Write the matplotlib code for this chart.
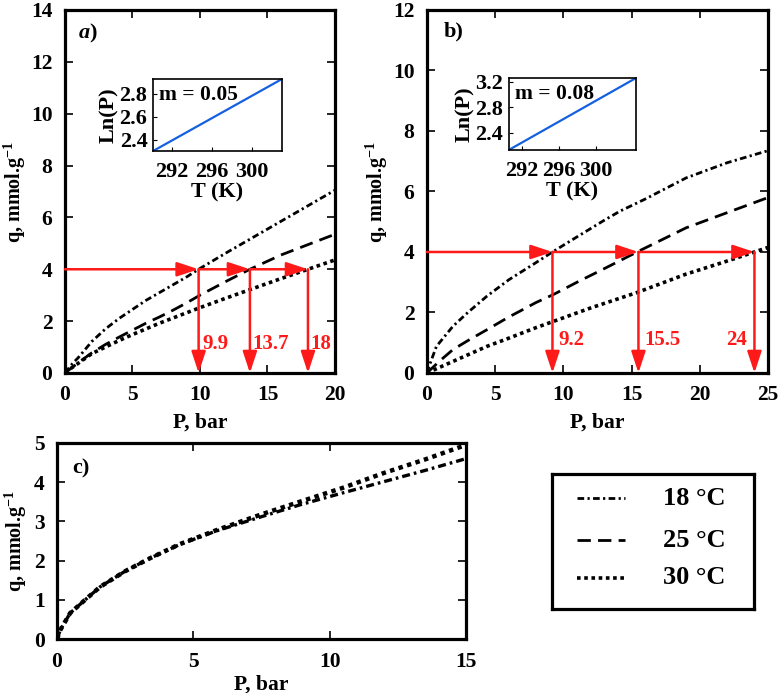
import matplotlib
matplotlib.use("Agg")
import matplotlib.pyplot as plt
import numpy as np

plt.rcParams.update({
    "font.family": ["Liberation Serif", "DejaVu Serif"],
    "font.weight": "bold",
    "axes.labelweight": "bold",
    "mathtext.fontset": "custom",
    "mathtext.rm": "Liberation Serif:bold",
    "mathtext.bf": "Liberation Serif:bold",
    "mathtext.it": "Liberation Serif:bold:italic",
    "mathtext.default": "rm",
})

# ---- panel a) data (P in bar, q in mmol/g) ----
P_A = [0, 0.5, 1, 2, 3, 4, 5, 6, 7, 8, 9, 9.9, 12, 14, 16, 18, 20]
Q_A_18 = [0, 0.33, 0.6, 1.22, 1.7, 2.1, 2.45, 2.8, 3.1, 3.4, 3.7, 4.0, 4.65, 5.25, 5.85, 6.45, 7.05]
P_A2 = [0, 0.5, 1, 2, 3, 4, 5, 6, 7, 8, 9, 10, 12, 13.7, 16, 18, 20]
Q_A_25 = [0, 0.2, 0.4, 0.78, 1.1, 1.38, 1.65, 1.92, 2.16, 2.42, 2.7, 3.0, 3.55, 4.0, 4.55, 4.95, 5.35]
P_A3 = [0, 0.5, 1, 2, 3, 4, 5, 6, 7, 8, 9, 10, 12, 14, 16, 18, 20]
Q_A_30 = [0, 0.2, 0.38, 0.75, 1.0, 1.25, 1.48, 1.7, 1.92, 2.12, 2.32, 2.52, 2.9, 3.27, 3.64, 4.0, 4.36]
CROSS_A = [9.9, 13.7, 18]
CROSS_A_LABELS = ["9.9", "13.7", "18"]

# ---- panel b) data ----
P_B1 = [0, 0.25, 0.7, 1.9, 3, 4.4, 6, 8, 9.2, 11, 13, 14.15, 16, 19, 22, 25]
Q_B_18 = [0, 0.33, 0.88, 1.54, 2.0, 2.54, 3.08, 3.65, 4.0, 4.5, 5.05, 5.35, 5.75, 6.45, 6.95, 7.35]
P_B2 = [0, 1, 1.9, 3, 4.4, 6, 6.8, 8, 9.3, 11, 13, 15.4, 19, 22, 25]
Q_B_25 = [0, 0.42, 0.77, 1.07, 1.43, 1.85, 2.04, 2.33, 2.6, 3.0, 3.45, 4.0, 4.8, 5.3, 5.8]
P_B3 = [0, 1.9, 4.4, 6, 8, 9.3, 12, 15.4, 19, 22, 24, 25]
Q_B_30 = [0, 0.38, 0.88, 1.15, 1.5, 1.71, 2.15, 2.66, 3.27, 3.7, 4.0, 4.15]
CROSS_B = [9.2, 15.5, 24]
CROSS_B_LABELS = ["9.2", "15.5", "24"]

# ---- panel c) data ----
P_C = [0, 0.12, 0.48, 1, 1.58, 2.5, 3.41, 4.5, 5.86, 7.5, 8.9, 10.5, 11.97, 13.5, 15]
Q_C_30 = [0, 0.23, 0.66, 0.98, 1.33, 1.73, 2.06, 2.42, 2.78, 3.18, 3.5, 3.86, 4.23, 4.58, 4.95]
Q_C_18 = [0, 0.23, 0.66, 0.98, 1.33, 1.73, 2.06, 2.41, 2.76, 3.12, 3.42, 3.73, 4.01, 4.3, 4.6]

# ---- insets: ln(P) vs T ----
T_INSET_A = [290.1, 303.0]
LNP_A = [2.30, 2.93]
T_INSET_B = [290.6, 304.3]
LNP_B = [2.13, 3.26]

LEGEND_LABELS = ["18 \u00b0C", "25 \u00b0C", "30 \u00b0C"]

RED = "#ff1a1a"
STYLES = {
    "18": dict(color="black", linewidth=2.0, linestyle=(0, (2.4, 1.2, 0.8, 1.2))),
    "25": dict(color="black", linewidth=2.0, linestyle=(0, (4.8, 2.6))),
    "30": dict(color="black", linewidth=2.6, linestyle=(0, (1, 1.0))),
}


def set_ticks(ax, xticks, yticks, fs, fmt="{:g}"):
    ax.set_xticks(xticks, labels=[fmt.format(v) for v in xticks],
                  fontsize=fs, fontweight="bold")
    ax.set_yticks(yticks, labels=[fmt.format(v) for v in yticks],
                  fontsize=fs, fontweight="bold")


def style_axes(ax, xlim, ylim, xticks, yticks, fs=15.5):
    ax.set_xlim(*xlim)
    ax.set_ylim(*ylim)
    set_ticks(ax, xticks, yticks, fs)
    ax.tick_params(direction="in", top=True, right=True, length=6, width=1.2,
                   pad=9)
    for s in ax.spines.values():
        s.set_linewidth(2.3)


def draw_arrows(ax, xs, labels, offsets, level=4.0):
    arrow = dict(arrowstyle="-|>,head_length=13,head_width=4.3", color=RED,
                 lw=1.8, shrinkA=0, shrinkB=0, mutation_scale=1)
    start = 0.0
    for x in xs:
        ax.annotate("", xy=(x, level), xytext=(start, level), arrowprops=arrow,
                    zorder=4)
        ax.annotate("", xy=(x, 0.0), xytext=(x, level), arrowprops=arrow,
                    zorder=4)
        start = x
    for x, lab, (dx, ha) in zip(xs, labels, offsets):
        ax.text(x + dx, 1.1, lab, color=RED, fontsize=15, fontweight="bold",
                ha=ha, va="center", zorder=5)


def make_inset(fig, rect, t, lnp, xlim, ylim, yticks, slope_text):
    ins = fig.add_axes(rect)
    ins.plot(t, lnp, color="#1560e0", linewidth=1.6)
    ins.set_xlim(*xlim)
    ins.set_ylim(*ylim)
    ins.set_xticks([292, 296, 300], labels=["292", "296", "300"],
                   fontsize=16, fontweight="bold")
    ins.set_yticks(yticks, labels=[f"{v:.1f}" for v in yticks],
                   fontsize=16, fontweight="bold")
    ins.tick_params(axis="x", direction="in", length=3, width=0.8, pad=8)
    ins.tick_params(axis="y", direction="in", length=3, width=0.8, pad=4)
    for s in ins.spines.values():
        s.set_linewidth(1.2)
    ins.set_xlabel("T (K)", fontsize=16, labelpad=0)
    ins.set_ylabel("Ln(P)", fontsize=16, labelpad=0)
    ins.text(0.05, 0.78, slope_text, transform=ins.transAxes, fontsize=15.5,
             fontweight="bold", va="center", ha="left")
    return ins


fig = plt.figure(figsize=(7.79, 6.93), dpi=100)
ylab = r"q, mmol.g$^{-1}$"

# panel a
ax_a = fig.add_axes([0.0834, 0.4618, 0.3466, 0.5238])
ax_a.plot(P_A, Q_A_18, **STYLES["18"])
ax_a.plot(P_A2, Q_A_25, **STYLES["25"])
ax_a.plot(P_A3, Q_A_30, **STYLES["30"])
style_axes(ax_a, (0, 20), (0, 14), np.arange(0, 21, 5), np.arange(0, 15, 2))
draw_arrows(ax_a, CROSS_A, CROSS_A_LABELS,
            [(0.3, "left"), (0.2, "left"), (0.2, "left")])
ax_a.set_xlabel("P, bar", fontsize=15.5, labelpad=5)
ax_a.set_ylabel(ylab, fontsize=14.5, labelpad=2)
ax_a.text(1.0, 13.1, r"$\mathit{a}$)", fontsize=16, fontweight="bold",
          va="center", ha="left")
make_inset(fig, [0.1964, 0.782, 0.1656, 0.104], T_INSET_A, LNP_A,
           (290.1, 303.0), (2.30, 2.93), [2.4, 2.6, 2.8], "m = 0.05")

# panel b
ax_b = fig.add_axes([0.548, 0.4618, 0.438, 0.5238])
ax_b.plot(P_B1, Q_B_18, **STYLES["18"])
ax_b.plot(P_B2, Q_B_25, **STYLES["25"])
ax_b.plot(P_B3, Q_B_30, **STYLES["30"])
style_axes(ax_b, (0, 25), (0, 12), np.arange(0, 26, 5), np.arange(0, 13, 2))
draw_arrows(ax_b, CROSS_B, CROSS_B_LABELS,
            [(0.45, "left"), (0.4, "left"), (-0.55, "right")])
ax_b.set_xlabel("P, bar", fontsize=15.5, labelpad=5)
ax_b.set_ylabel(ylab, fontsize=14.5, labelpad=2)
ax_b.text(1.2, 11.3, "b)", fontsize=16, fontweight="bold", va="center",
          ha="left")
make_inset(fig, [0.653, 0.7835, 0.1634, 0.1039], T_INSET_B, LNP_B,
           (290.6, 304.3), (2.13, 3.26), [2.4, 2.8, 3.2], "m = 0.08")

# panel c
ax_c = fig.add_axes([0.0732, 0.0779, 0.525, 0.2829])
ax_c.plot(P_C, Q_C_18, color="black", linewidth=2.4,
          linestyle=(0, (2.4, 1.2, 0.8, 1.2)))
ax_c.plot(P_C, Q_C_30, color="black", linewidth=3.2, linestyle=(0, (1, 1.0)))
style_axes(ax_c, (0, 15), (0, 5), [0, 5, 10, 15], np.arange(0, 6, 1))
ax_c.set_xlabel("P, bar", fontsize=15.5, labelpad=2)
ax_c.set_ylabel(ylab, fontsize=14.5, labelpad=3)
ax_c.text(0.55, 4.36, "c)", fontsize=16, fontweight="bold", va="center",
          ha="left")

# legend box
ax_l = fig.add_axes([0.7086, 0.1212, 0.2594, 0.1948])
ax_l.set_xlim(0, 1)
ax_l.set_ylim(0, 1)
ax_l.set_xticks([])
ax_l.set_yticks([])
for s in ax_l.spines.values():
    s.set_linewidth(2.3)
for key, lab, y in zip(["18", "25", "30"], LEGEND_LABELS, [0.82, 0.51, 0.23]):
    ax_l.plot([0.124, 0.361], [y, y], **STYLES[key])
    ax_l.text(0.55, y, lab, fontsize=19, fontweight="bold", va="center",
              ha="left")

fig.savefig("out.png", dpi=100, facecolor="white")
